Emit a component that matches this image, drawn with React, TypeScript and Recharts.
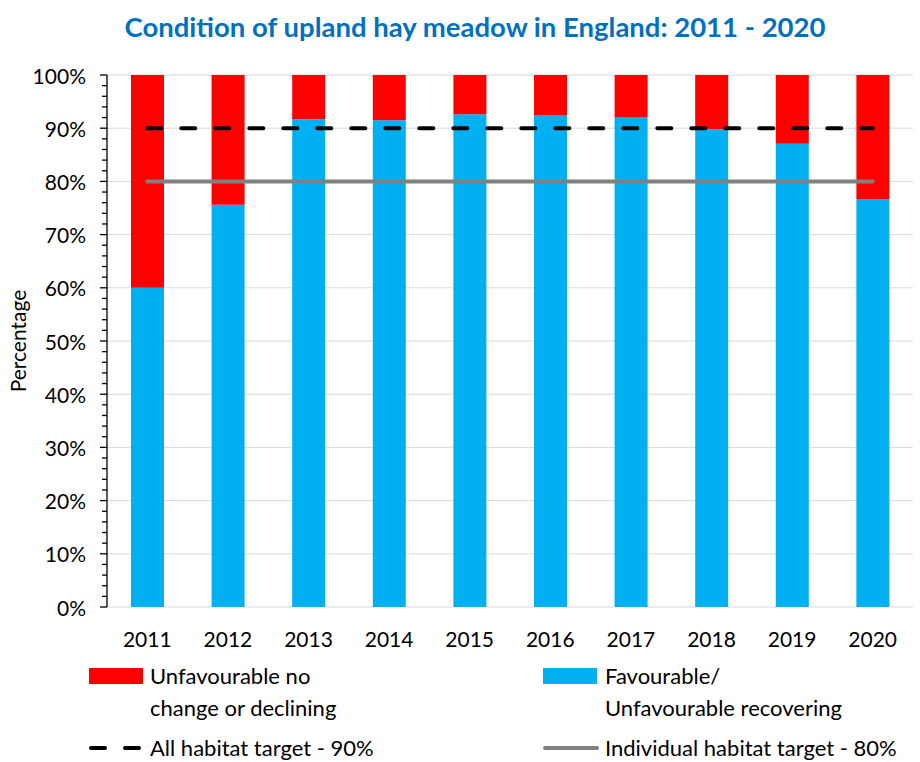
import React from 'react';
import { ComposedChart, Bar, Line, XAxis, YAxis, CartesianGrid } from 'recharts';

const years = ['2011', '2012', '2013', '2014', '2015', '2016', '2017', '2018', '2019', '2020'];
const favourable = [60, 75.6, 91.7, 91.5, 92.6, 92.4, 92.1, 89.8, 87.1, 76.6];
const unfavourable = [40, 24.4, 8.3, 8.5, 7.4, 7.6, 7.9, 10.2, 12.9, 23.4];
const allTarget = [90, 90, 90, 90, 90, 90, 90, 90, 90, 90];
const individualTarget = [80, 80, 80, 80, 80, 80, 80, 80, 80, 80];
const yTicks = [0, 2, 4, 6, 8, 10, 12, 14, 16, 18, 20, 22, 24, 26, 28, 30, 32, 34, 36, 38, 40, 42, 44, 46, 48, 50, 52, 54, 56, 58, 60, 62, 64, 66, 68, 70, 72, 74, 76, 78, 80, 82, 84, 86, 88, 90, 92, 94, 96, 98, 100];
const gridValues = [0, 10, 20, 30, 40, 50, 60, 70, 80, 90, 100];
const boundaryTicks = [0, 1, 2, 3, 4, 5, 6, 7, 8, 9, 10];

const data = years.map((year, i) => ({
  year,
  fav: favourable[i],
  unfav: unfavourable[i],
  all: allTarget[i],
  ind: individualTarget[i],
}));

const FONT = 'Lato, "Open Sans", sans-serif';

const YTick = ({ x, y, payload }: any) => {
  const major = payload.value % 10 === 0;
  return (
    <g>
      <line x1={major ? x - 7 : x - 5} x2={x} y1={y} y2={y} stroke="#000" strokeWidth={1.3} />
      {major && (
        <text x={x - 21} y={y} textAnchor="end" dominantBaseline="central" fontSize={21} fill="#000" fontFamily={FONT}>
          {payload.value}%
        </text>
      )}
    </g>
  );
};

const XTick = ({ x, y, payload }: any) => (
  <text x={x} y={y + 31} textAnchor="middle" dominantBaseline="central" fontSize={21} fill="#000" fontFamily={FONT}>
    {payload.value}
  </text>
);

export default function App() {
  return (
    <div style={{ position: 'absolute', left: 0, top: 0, width: 920, height: 762, background: '#fff', fontFamily: FONT }}>
      <div style={{ position: 'absolute', left: 15, top: 10, width: 920, textAlign: 'center', color: '#0070C0', fontWeight: 700, fontSize: 27.5 }}>
        Condition of upland hay meadow in England: 2011 - 2020
      </div>
      <ComposedChart
        width={920}
        height={762}
        data={data}
        margin={{ top: 75, right: 7, left: 47, bottom: 115 }}
        barGap={0}
      >
        <CartesianGrid vertical={false} stroke="#D9D9D9" horizontalValues={gridValues} />
        <XAxis
          xAxisId="bounds"
          type="number"
          domain={[0, 10]}
          ticks={boundaryTicks}
          height={0}
          tick={false}
          tickSize={7}
          axisLine={{ stroke: '#000', strokeWidth: 1.3 }}
          tickLine={{ stroke: '#000', strokeWidth: 1.3 }}
        />
        <XAxis
          xAxisId="cat"
          dataKey="year"
          height={40}
          axisLine={false}
          tickLine={false}
          tickSize={0}
          tickMargin={0}
          tick={<XTick />}
          interval={0}
        />
        <YAxis
          domain={[0, 100]}
          ticks={yTicks}
          interval={0}
          width={60}
          tickSize={0}
          tickMargin={0}
          tickLine={false}
          axisLine={{ stroke: '#000', strokeWidth: 1.3 }}
          tick={<YTick />}
          label={{ value: 'Percentage', angle: -90, position: 'insideLeft', offset: -28, style: { fontSize: 21, fill: '#000', fontFamily: FONT, textAnchor: 'middle' } }}
        />
        <Bar xAxisId="cat" dataKey="fav" stackId="a" fill="#00B0F0" barSize={33} isAnimationActive={false} />
        <Bar xAxisId="cat" dataKey="unfav" stackId="a" fill="#FF0000" barSize={33} isAnimationActive={false} />
        <Line xAxisId="cat" dataKey="all" stroke="#000" strokeWidth={4} strokeDasharray="14 20" strokeLinecap="round" dot={false} activeDot={false} isAnimationActive={false} />
        <Line xAxisId="cat" dataKey="ind" stroke="#808080" strokeWidth={4} strokeLinecap="round" dot={false} activeDot={false} isAnimationActive={false} />
      </ComposedChart>
      <div style={{ position: 'absolute', left: 89, top: 668, width: 54, height: 16, background: '#FF0000' }} />
      <div style={{ position: 'absolute', left: 150, top: 660, fontSize: 22, lineHeight: '32px', color: '#000' }}>
        Unfavourable no<br />change or declining
      </div>
      <div style={{ position: 'absolute', left: 543, top: 668, width: 54, height: 16, background: '#00B0F0' }} />
      <div style={{ position: 'absolute', left: 605, top: 660, fontSize: 22, lineHeight: '32px', color: '#000' }}>
        Favourable/<br />Unfavourable recovering
      </div>
      <svg style={{ position: 'absolute', left: 85, top: 740 }} width={64} height={16}>
        <line x1={6} x2={58} y1={8} y2={8} stroke="#000" strokeWidth={4} strokeLinecap="round" strokeDasharray="14 20" />
      </svg>
      <div style={{ position: 'absolute', left: 150, top: 732, fontSize: 22, lineHeight: '32px', color: '#000' }}>
        All habitat target - 90%
      </div>
      <svg style={{ position: 'absolute', left: 539, top: 740 }} width={64} height={16}>
        <line x1={6} x2={58} y1={8} y2={8} stroke="#808080" strokeWidth={4} strokeLinecap="round" />
      </svg>
      <div style={{ position: 'absolute', left: 605, top: 732, fontSize: 22, lineHeight: '32px', color: '#000' }}>
        Individual habitat target - 80%
      </div>
    </div>
  );
}
